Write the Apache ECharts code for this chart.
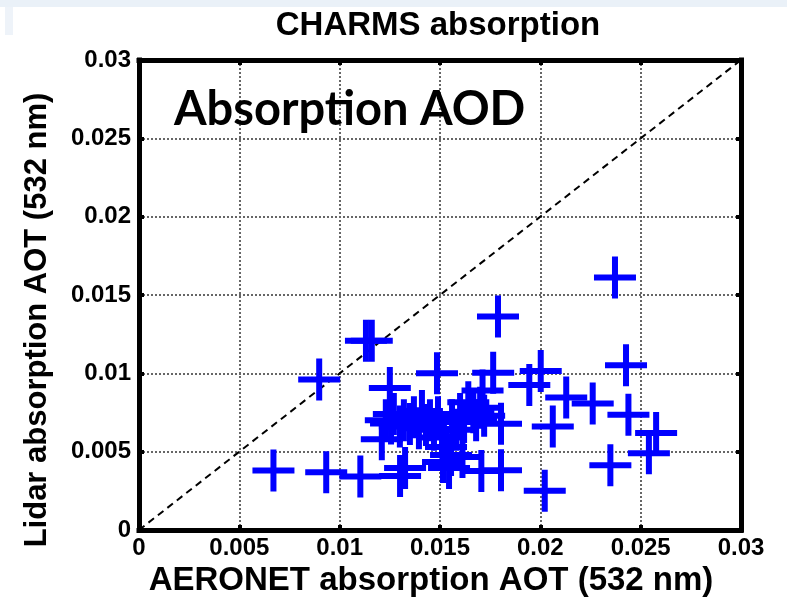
<!DOCTYPE html>
<html>
<head>
<meta charset="utf-8">
<script src="https://cdn.jsdelivr.net/npm/echarts@6/dist/echarts.min.js"></script>
<style>
html,body{margin:0;padding:0;background:#fff;}
#chart{width:787px;height:613px;}
</style>
</head>
<body>
<div id="chart"></div>
<script>
var chartTitle = 'CHARMS absorption';
var panelLabel = 'Absorption AOD';
var xAxisTitle = 'AERONET absorption AOT (532 nm)';
var yAxisTitle = 'Lidar absorption AOT (532 nm)';
var tickValues = [0, 0.005, 0.01, 0.015, 0.02, 0.025, 0.03];

var aeronetAOT = [
  0.00670, 0.00933, 0.01103, 0.00898, 0.01131, 0.01160, 0.01250, 0.01485, 0.01765, 0.01789,
  0.02372, 0.02427, 0.02002, 0.01945, 0.02129, 0.02261, 0.02439, 0.02062, 0.01804, 0.02577,
  0.02541, 0.02349, 0.02022, 0.01804, 0.01706, 0.01712, 0.01326, 0.01301, 0.01515, 0.01545,
  0.01555, 0.01612, 0.01210, 0.01230, 0.01256, 0.01270, 0.01300, 0.01320, 0.01350, 0.01370,
  0.01395, 0.01410, 0.01430, 0.01450, 0.01470, 0.01490, 0.01510, 0.01530, 0.01560, 0.01580,
  0.01600, 0.01620, 0.01641, 0.01666, 0.01680, 0.01700, 0.01720
];
var lidarAOT = [
  0.00379, 0.00368, 0.00342, 0.00960, 0.01208, 0.01208, 0.00907, 0.01000, 0.01003, 0.01362,
  0.01612, 0.01052, 0.01015, 0.00925, 0.00845, 0.00808, 0.00736, 0.00660, 0.00678, 0.00619,
  0.00490, 0.00414, 0.00250, 0.00382, 0.00376, 0.00890, 0.00396, 0.00345, 0.00434, 0.00395,
  0.00479, 0.00466, 0.00579, 0.00700, 0.00680, 0.00740, 0.00660, 0.00700, 0.00677, 0.00720,
  0.00650, 0.00760, 0.00670, 0.00700, 0.00640, 0.00720, 0.00590, 0.00530, 0.00700, 0.00640,
  0.00740, 0.00690, 0.00815, 0.00751, 0.00700, 0.00780, 0.00730
];
var oneToOne = [[0, 0], [0.03, 0.03]];

var points = aeronetAOT.map(function (x, i) { return [x, lidarAOT[i]]; });

var crossPath = 'path://M-3,-21L3,-21L3,-3L21,-3L21,3L3,3L3,21L-3,21L-3,3L-21,3L-21,-3L-3,-3Z';
var fontFam = '"Liberation Sans", Arial, sans-serif';

function fmt(v) {
  if (v === 0) return '0';
  return String(parseFloat(v.toFixed(3)));
}

var boxLine = { show: true, onZero: false, lineStyle: { color: '#000', width: 5, cap: 'square' } };
var inTick = { show: true, inside: true, length: 5, lineStyle: { color: '#000', width: 4 } };
var grid = { show: true, lineStyle: { color: '#666', width: 2, type: [2, 2] } };

var chart = echarts.init(document.getElementById('chart'), null, { renderer: 'canvas' });
chart.setOption({
  animation: false,
  backgroundColor: '#ffffff',
  grid: { left: 139, top: 60, width: 602, height: 470, containLabel: false },
  graphic: [
    { type: 'rect', shape: { x: 0, y: 0, width: 787, height: 7 }, style: { fill: '#EAF1F8' }, z: -10 },
    { type: 'rect', shape: { x: 5, y: 7, width: 8, height: 28 }, style: { fill: '#EEF3F9' }, z: -10 },
    {
      type: 'text', x: 438, y: 26,
      style: { text: chartTitle, font: 'bold 33px ' + fontFam, fill: '#000', align: 'center', verticalAlign: 'middle' }
    },
    {
      type: 'text', x: 174, y: 110,
      style: { text: panelLabel, font: 'bold 47px Lato, "Open Sans", sans-serif', fill: '#000', verticalAlign: 'middle' },
      z: 10
    },
    {
      type: 'text', x: 37, y: 320, rotation: Math.PI / 2,
      style: { text: yAxisTitle, font: 'bold 31px ' + fontFam, fill: '#000', align: 'center', verticalAlign: 'middle' }
    }
  ],
  xAxis: [
    {
      type: 'value', min: 0, max: 0.03, interval: 0.005, position: 'bottom',
      axisLine: boxLine, axisTick: inTick, splitLine: grid,
      axisLabel: { color: '#000', fontSize: 24, fontWeight: 'bold', fontFamily: fontFam, margin: 6, formatter: fmt },
      name: xAxisTitle, nameLocation: 'middle', nameGap: 29,
      nameTextStyle: { color: '#000', fontSize: 33, fontWeight: 'bold', fontFamily: fontFam, padding: [0, 18, 0, 0] }
    },
    {
      type: 'value', min: 0, max: 0.03, interval: 0.005, position: 'top',
      axisLine: boxLine, axisTick: inTick, splitLine: { show: false }, axisLabel: { show: false }
    }
  ],
  yAxis: [
    {
      type: 'value', min: 0, max: 0.03, interval: 0.005, position: 'left',
      axisLine: boxLine, axisTick: inTick, splitLine: grid,
      axisLabel: { color: '#000', fontSize: 24, fontWeight: 'bold', fontFamily: fontFam, margin: 8, formatter: fmt }
    },
    {
      type: 'value', min: 0, max: 0.03, interval: 0.005, position: 'right',
      axisLine: boxLine, axisTick: inTick, splitLine: { show: false }, axisLabel: { show: false }
    }
  ],
  series: [
    {
      type: 'line', data: oneToOne, xAxisIndex: 0, yAxisIndex: 0,
      symbol: 'none', silent: true,
      lineStyle: { color: '#000', width: 2, type: [7, 5] }, z: 3
    },
    {
      type: 'scatter', data: points, xAxisIndex: 0, yAxisIndex: 0,
      symbol: crossPath, symbolSize: 42, symbolKeepAspect: true,
      itemStyle: { color: '#0000FF', opacity: 1 }, z: 4
    }
  ]
});
</script>
</body>
</html>
